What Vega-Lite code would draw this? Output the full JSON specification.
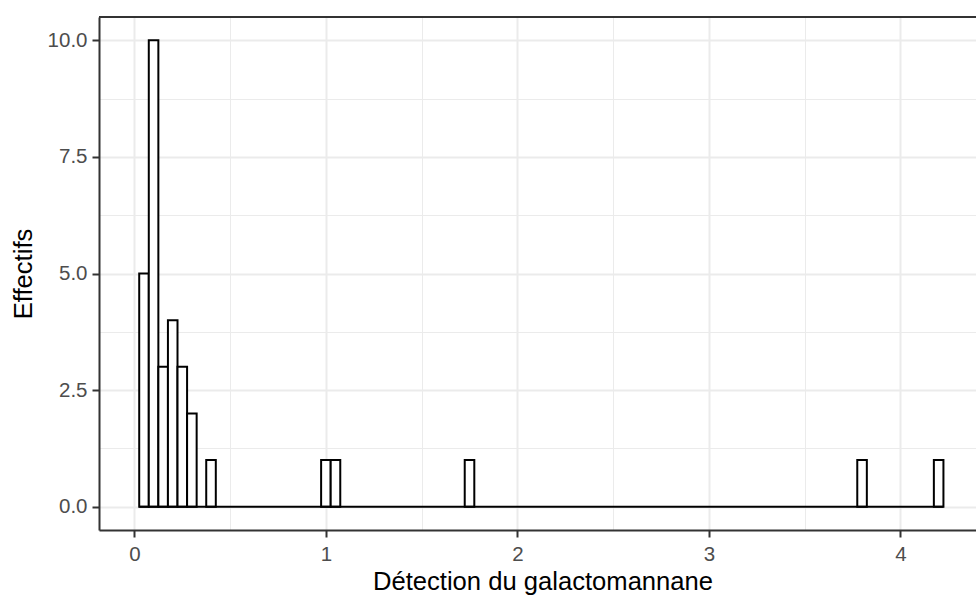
{
  "$schema": "https://vega.github.io/schema/vega-lite/v6.json",
  "width": 887,
  "height": 513,
  "autosize": "none",
  "padding": {"left": 99, "top": 17, "right": -10, "bottom": 67},
  "background": "white",
  "view": {"stroke": null},
  "config": {
    "view": {"stroke": null},
    "font": "Liberation Sans",
    "axis": {
      "labelFont": "Liberation Sans",
      "titleFont": "Liberation Sans",
      "labelFontSize": 20.5,
      "titleFontSize": 25.6,
      "titleFontWeight": "normal",
      "labelColor": "#4D4D4D",
      "titleColor": "#000000",
      "domainColor": "#333333",
      "domainWidth": 2,
      "tickColor": "#333333",
      "tickWidth": 2,
      "tickSize": 7,
      "gridColor": "#EBEBEB"
    }
  },
  "resolve": {"scale": {"x": "shared", "y": "shared"}, "axis": {"x": "independent", "y": "independent"}},
  "data": {
    "values": [
      {"bin_start": 0.025, "bin_end": 0.075, "count": 5},
      {"bin_start": 0.075, "bin_end": 0.125, "count": 10},
      {"bin_start": 0.125, "bin_end": 0.175, "count": 3},
      {"bin_start": 0.175, "bin_end": 0.225, "count": 4},
      {"bin_start": 0.225, "bin_end": 0.275, "count": 3},
      {"bin_start": 0.275, "bin_end": 0.325, "count": 2},
      {"bin_start": 0.375, "bin_end": 0.425, "count": 1},
      {"bin_start": 0.975, "bin_end": 1.025, "count": 1},
      {"bin_start": 1.025, "bin_end": 1.075, "count": 1},
      {"bin_start": 1.725, "bin_end": 1.775, "count": 1},
      {"bin_start": 3.775, "bin_end": 3.825, "count": 1},
      {"bin_start": 4.175, "bin_end": 4.225, "count": 1}
    ]
  },
  "layer": [
    {
      "mark": {"type": "rect", "fill": "white", "stroke": "black", "strokeWidth": 2},
      "encoding": {
        "x": {
          "field": "bin_start",
          "type": "quantitative",
          "title": "Détection du galactomannane",
          "scale": {"domain": [-0.185, 4.4473], "nice": false, "zero": false},
          "axis": {
            "values": [0, 0.5, 1, 1.5, 2, 2.5, 3, 3.5, 4],
            "labelExpr": "datum.value % 1 == 0 ? format(datum.value, 'd') : ''",
            "labelPadding": 7,
            "titlePadding": 5,
            "gridWidth": {"condition": {"test": "datum.value % 1 == 0", "value": 2}, "value": 1},
            "tickOpacity": {"condition": {"test": "datum.value % 1 == 0", "value": 1}, "value": 0}
          }
        },
        "x2": {"field": "bin_end"},
        "y": {
          "field": "count",
          "type": "quantitative",
          "title": "Effectifs",
          "scale": {"domain": [-0.5, 10.5], "nice": false, "zero": false},
          "axis": {
            "values": [0, 1.25, 2.5, 3.75, 5, 6.25, 7.5, 8.75, 10],
            "labelExpr": "datum.value % 2.5 == 0 ? format(datum.value, '.1f') : ''",
            "labelPadding": 5,
            "titlePadding": 11,
            "gridWidth": {"condition": {"test": "datum.value % 2.5 == 0", "value": 2}, "value": 1},
            "tickOpacity": {"condition": {"test": "datum.value % 2.5 == 0", "value": 1}, "value": 0}
          }
        },
        "y2": {"datum": 0}
      }
    },
    {
      "mark": {"type": "rule", "color": "black", "strokeWidth": 2},
      "encoding": {
        "x": {"aggregate": "min", "field": "bin_start", "type": "quantitative", "axis": null},
        "x2": {"aggregate": "max", "field": "bin_end"},
        "y": {"datum": 0, "type": "quantitative", "axis": null}
      }
    },
    {
      "mark": {"type": "rule", "color": "#333333", "strokeWidth": 2},
      "encoding": {
        "y": {"datum": 10.5, "type": "quantitative", "axis": null}
      }
    }
  ]
}
